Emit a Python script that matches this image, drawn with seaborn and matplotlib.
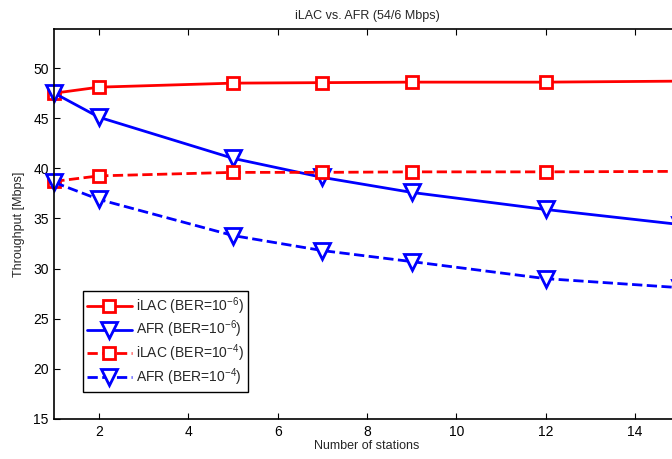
import pandas as pd
import matplotlib
matplotlib.use('Agg')
import matplotlib.pyplot as plt
import seaborn as sns

# values
stations = [1, 2, 5, 7, 9, 12, 15]
ilac_ber6 = [47.5, 48.1, 48.5, 48.55, 48.6, 48.6, 48.7]
afr_ber6 = [47.5, 45.1, 41.0, 39.1, 37.6, 35.9, 34.4]
ilac_ber4 = [38.7, 39.25, 39.6, 39.6, 39.65, 39.65, 39.7]
afr_ber4 = [38.6, 36.9, 33.3, 31.8, 30.7, 29.0, 28.1]

labels = ['iLAC (BER=10$^{-6}$)', 'AFR (BER=10$^{-6}$)',
          'iLAC (BER=10$^{-4}$)', 'AFR (BER=10$^{-4}$)']
colors = ['#ff0000', '#0000ff', '#ff0000', '#0000ff']
markers = ['s', 'v', 's', 'v']
styles = ['-', '-', '--', '--']
sizes = [9, 11, 9, 11]


def main():
    sns.set_style('ticks')
    plt.rcParams['font.family'] = ['Liberation Sans', 'DejaVu Sans']
    plt.rcParams['mathtext.fontset'] = 'custom'
    plt.rcParams['mathtext.rm'] = 'Liberation Sans'
    plt.rcParams['mathtext.it'] = 'Liberation Sans'
    plt.rcParams['mathtext.default'] = 'regular'

    df = pd.DataFrame({'x': stations * 4,
                       'y': ilac_ber6 + afr_ber6 + ilac_ber4 + afr_ber4,
                       'series': sum([[l] * len(stations) for l in labels], [])})

    fig = plt.figure(figsize=(6.72, 4.59), dpi=100)
    ax = fig.add_axes([54.3 / 672, 40 / 459, 625.4 / 672, 390 / 459])

    for lab, c, m, ls, ms in zip(labels, colors, markers, styles, sizes):
        sub = df[df['series'] == lab]
        sns.lineplot(data=sub, x='x', y='y', ax=ax, color=c, marker=m,
                     linestyle=ls, linewidth=2, markersize=ms,
                     markerfacecolor='white', markeredgecolor=c,
                     markeredgewidth=2, label=lab, clip_on=False,
                     dashes=False if ls == '-' else (3.2, 2.9))

    ax.set_xlim(1, 15)
    ax.set_ylim(15, 53.9)
    ax.set_xticks([2, 4, 6, 8, 10, 12, 14])
    ax.set_yticks([15, 20, 25, 30, 35, 40, 45, 50])
    ax.tick_params(direction='in', length=4.5, width=0.8, labelsize=10,
                   top=True, right=True, colors='black', pad=4)
    for sp in ax.spines.values():
        sp.set_visible(True)
        sp.set_color('black')
        sp.set_linewidth(1.2)

    ax.set_title('iLAC vs. AFR (54/6 Mbps)', fontsize=9, pad=7)
    ax.set_xlabel('Number of stations', fontsize=9, labelpad=1)
    ax.set_ylabel('Throughput [Mbps]', fontsize=9, labelpad=6)

    leg = ax.legend(loc='upper left', bbox_to_anchor=(83 / 672, 1 - 291 / 459),
                    bbox_transform=fig.transFigure, fontsize=10, frameon=True,
                    fancybox=False, edgecolor='black', framealpha=1,
                    handlelength=3.2, borderpad=0.3, labelspacing=0.15,
                    handletextpad=0.3, borderaxespad=0)
    leg.get_frame().set_linewidth(1.0)

    fig.savefig('out.png', dpi=100)


if __name__ == '__main__':
    main()
